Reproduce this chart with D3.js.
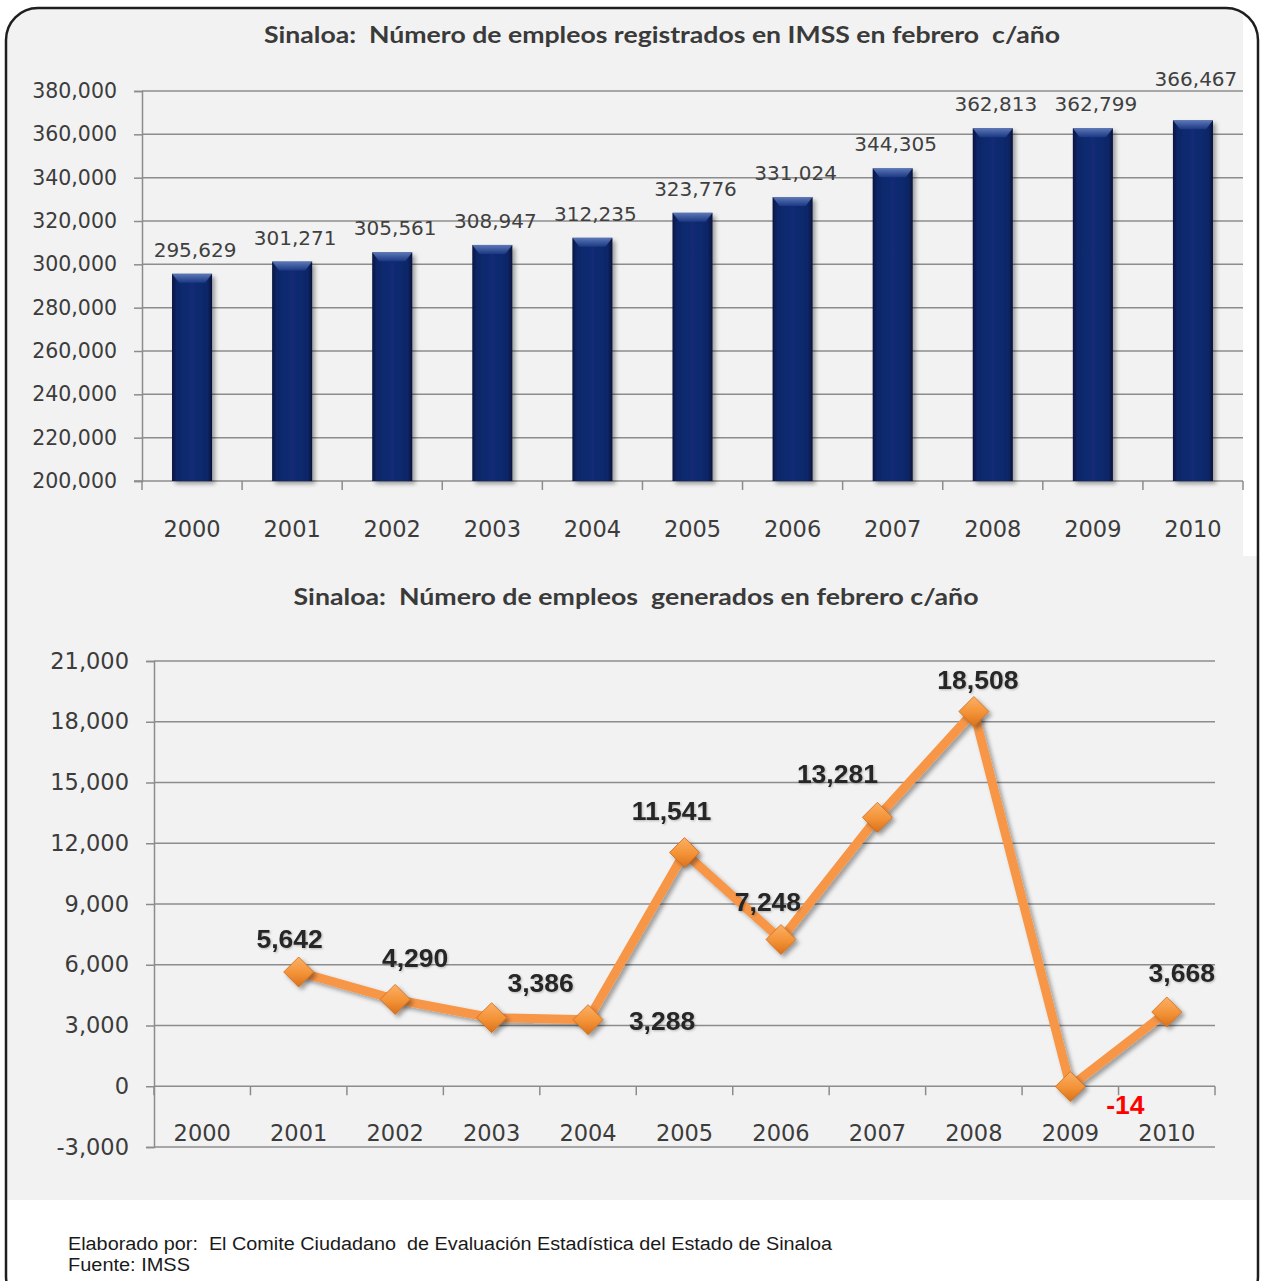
<!DOCTYPE html>
<html>
<head>
<meta charset="utf-8">
<script src="https://cdn.jsdelivr.net/npm/d3@7"></script>
<style>
  html, body { margin: 0; padding: 0; background: #ffffff; }
  svg { display: block; }
  text { white-space: pre; }
</style>
</head>
<body>
<svg id="chart" width="1262" height="1281"></svg>
<script>
// ---------------- DATA ----------------
const years = ["2000","2001","2002","2003","2004","2005","2006","2007","2008","2009","2010"];
const registrados = [295629, 301271, 305561, 308947, 312235, 323776, 331024, 344305, 362813, 362799, 366467];
const generados = [null, 5642, 4290, 3386, 3288, 11541, 7248, 13281, 18508, -14, 3668];
const topTicks = [200000, 220000, 240000, 260000, 280000, 300000, 320000, 340000, 360000, 380000];
const bottomTicks = [-3000, 0, 3000, 6000, 9000, 12000, 15000, 18000, 21000];
const titleTop = "Sinaloa:  Número de empleos registrados en IMSS en febrero  c/año";
const titleBottom = "Sinaloa:  Número de empleos  generados en febrero c/año";
const footer1 = "Elaborado por:  El Comite Ciudadano  de Evaluación Estadística del Estado de Sinaloa";
const footer2 = "Fuente: IMSS";

// ---------------- SETUP ----------------
const svg = d3.select("#chart");
const loc = d3.formatLocale({decimal: ".", thousands: ",", grouping: [3], currency: ["$", ""], minus: "-"});
const fmt = loc.format(",");
const gridColor = "#8c8c8c";
const tickText = "#3c3c3c";

const defs = svg.append("defs");
defs.append("clipPath").attr("id", "frameClip")
  .append("rect").attr("x", 6).attr("y", 8).attr("width", 1252).attr("height", 1300).attr("rx", 32);

const barGrad = defs.append("linearGradient").attr("id", "barGrad").attr("x1", "0").attr("x2", "1").attr("y1", "0").attr("y2", "0");
[["0%", "#061540"], ["12%", "#0e2769"], ["50%", "#122c74"], ["88%", "#0e2769"], ["100%", "#051238"]]
  .forEach(([o, c]) => barGrad.append("stop").attr("offset", o).attr("stop-color", c));
const bevelGrad = defs.append("linearGradient").attr("id", "bevelGrad").attr("x1", "0").attr("x2", "0").attr("y1", "0").attr("y2", "1");
[["0%", "#6a86c4"], ["100%", "#1d3a86"]]
  .forEach(([o, c]) => bevelGrad.append("stop").attr("offset", o).attr("stop-color", c));
const markGrad = defs.append("linearGradient").attr("id", "markGrad").attr("x1", "0").attr("x2", "0").attr("y1", "0").attr("y2", "1");
[["0%", "#fbb066"], ["55%", "#f39236"], ["100%", "#d9711c"]]
  .forEach(([o, c]) => markGrad.append("stop").attr("offset", o).attr("stop-color", c));

const shadow = defs.append("filter").attr("id", "shadow").attr("x", "-30%").attr("y", "-30%").attr("width", "160%").attr("height", "160%");
shadow.append("feDropShadow").attr("dx", 3).attr("dy", 3).attr("stdDeviation", 2.2).attr("flood-color", "#000").attr("flood-opacity", 0.35);
const tshadow = defs.append("filter").attr("id", "tshadow").attr("x", "-10%").attr("y", "-10%").attr("width", "130%").attr("height", "130%");
tshadow.append("feDropShadow").attr("dx", 1).attr("dy", 1).attr("stdDeviation", 0.8).attr("flood-color", "#000").attr("flood-opacity", 0.25);

// backgrounds
const bg = svg.append("g").attr("clip-path", "url(#frameClip)");
bg.append("rect").attr("x", 0).attr("y", 0).attr("width", 1243).attr("height", 556).attr("fill", "#f2f2f2");
bg.append("rect").attr("x", 0).attr("y", 556).attr("width", 1262).attr("height", 644).attr("fill", "#f2f2f2");

// ---------------- TOP CHART ----------------
const xTop = d3.scaleBand().domain(years).range([142, 1243]).paddingInner(0).paddingOuter(0);
const yTop = d3.scaleLinear().domain([200000, 380000]).range([481, 91]);
const gTop = svg.append("g");

gTop.append("text").attr("x", 662).attr("y", 43).attr("text-anchor", "middle")
  .attr("font-family", "Lato, 'Open Sans', sans-serif").attr("font-weight", "bold").attr("font-size", 22)
  .attr("fill", "#3a3a3a").attr("textLength", 796).attr("lengthAdjust", "spacingAndGlyphs").text(titleTop);

gTop.append("g").selectAll("line").data(topTicks.filter(t => t > 200000)).join("line")
  .attr("x1", 142).attr("x2", 1243).attr("y1", d => yTop(d)).attr("y2", d => yTop(d))
  .attr("stroke", gridColor).attr("stroke-width", 1.5);

const yAxisTop = d3.axisLeft(yTop).tickValues(topTicks).tickFormat(fmt).tickSize(8).tickPadding(17);
const yAT = gTop.append("g").attr("transform", "translate(142,0)").call(yAxisTop);
yAT.select(".domain").attr("stroke", gridColor).attr("stroke-width", 1.5);
yAT.selectAll(".tick line").attr("stroke", gridColor).attr("stroke-width", 1.5);
yAT.selectAll(".tick text").attr("font-family", "'DejaVu Sans', sans-serif").attr("font-size", 20.5).attr("fill", tickText);

const xAT = gTop.append("g").attr("transform", "translate(0,481)")
  .call(d3.axisBottom(xTop).tickSize(0).tickPadding(40));
xAT.select(".domain").remove();
xAT.selectAll(".tick text").attr("font-family", "'DejaVu Sans', sans-serif").attr("font-size", 22.5).attr("fill", tickText);
gTop.append("line").attr("x1", 134).attr("x2", 1243).attr("y1", 481).attr("y2", 481).attr("stroke", gridColor).attr("stroke-width", 1.5);
const bTop = years.map(y => xTop(y)).concat([xTop.range()[1]]);
gTop.append("g").selectAll("line").data(bTop).join("line")
  .attr("x1", d => d).attr("x2", d => d).attr("y1", 481).attr("y2", 490)
  .attr("stroke", gridColor).attr("stroke-width", 1.5);

const barW = xTop.bandwidth() * 0.4;
const bars = gTop.append("g").selectAll("g.bar").data(years.map((y, i) => ({y, v: registrados[i]}))).join("g").attr("class", "bar");
bars.append("rect")
  .attr("x", d => xTop(d.y) + (xTop.bandwidth() - barW) / 2)
  .attr("y", d => yTop(d.v))
  .attr("width", barW)
  .attr("height", d => yTop(200000) - yTop(d.v))
  .attr("fill", "url(#barGrad)").attr("filter", "url(#shadow)");
bars.append("path")
  .attr("d", d => {
    const x0 = xTop(d.y) + (xTop.bandwidth() - barW) / 2, x1 = x0 + barW, t = yTop(d.v), h = 9, ins = 7;
    return `M${x0},${t}L${x1},${t}L${x1 - ins},${t + h}L${x0 + ins},${t + h}Z`;
  })
  .attr("fill", "url(#bevelGrad)").attr("opacity", 0.85);
bars.append("text")
  .attr("x", d => xTop(d.y) + xTop.bandwidth() / 2 + 3)
  .attr("y", (d, i) => yTop(d.v) - (i === years.length - 1 ? 34 : 17))
  .attr("text-anchor", "middle")
  .attr("font-family", "'DejaVu Sans', sans-serif").attr("font-size", 20).attr("fill", "#404040")
  .text(d => fmt(d.v));

// ---------------- BOTTOM CHART ----------------
const xBot = d3.scaleBand().domain(years).range([154, 1215]);
const yBot = d3.scaleLinear().domain([-3000, 21000]).range([1147, 661]);
const gBot = svg.append("g");

gBot.append("text").attr("x", 636).attr("y", 605).attr("text-anchor", "middle")
  .attr("font-family", "Lato, 'Open Sans', sans-serif").attr("font-weight", "bold").attr("font-size", 22)
  .attr("fill", "#3a3a3a").attr("textLength", 685).attr("lengthAdjust", "spacingAndGlyphs").text(titleBottom);

gBot.append("g").selectAll("line").data(bottomTicks).join("line")
  .attr("x1", 154).attr("x2", 1215).attr("y1", d => yBot(d)).attr("y2", d => yBot(d))
  .attr("stroke", gridColor).attr("stroke-width", 1.5);

const yAB = gBot.append("g").attr("transform", "translate(154,0)")
  .call(d3.axisLeft(yBot).tickValues(bottomTicks).tickFormat(fmt).tickSize(8).tickPadding(17));
yAB.select(".domain").attr("stroke", gridColor).attr("stroke-width", 1.5);
yAB.selectAll(".tick line").attr("stroke", gridColor).attr("stroke-width", 1.5);
yAB.selectAll(".tick text").attr("font-family", "'DejaVu Sans', sans-serif").attr("font-size", 22.5).attr("fill", tickText);

const bBot = years.map(y => xBot(y)).concat([xBot.range()[1]]);
gBot.append("g").selectAll("line").data(bBot).join("line")
  .attr("x1", d => d).attr("x2", d => d).attr("y1", yBot(0)).attr("y2", yBot(0) + 9)
  .attr("stroke", gridColor).attr("stroke-width", 1.5);
const xAB = gBot.append("g").attr("transform", `translate(0,${yBot(0)})`)
  .call(d3.axisBottom(xBot).tickSize(0).tickPadding(39));
xAB.select(".domain").remove();
xAB.selectAll(".tick text").attr("font-family", "'DejaVu Sans', sans-serif").attr("font-size", 22.5).attr("fill", tickText);

const pts = years.map((y, i) => ({y, v: generados[i]})).filter(d => d.v !== null);
const cx = d => xBot(d.y) + xBot.bandwidth() / 2;
gBot.append("path").datum(pts)
  .attr("d", d3.line().x(cx).y(d => yBot(d.v)))
  .attr("fill", "none").attr("stroke", "#f79646").attr("stroke-width", 9)
  .attr("stroke-linejoin", "miter").attr("filter", "url(#shadow)");
gBot.append("g").selectAll("path").data(pts).join("path")
  .attr("d", d => { const x = cx(d), y = yBot(d.v), r = 15; return `M${x},${y - r}L${x + r},${y}L${x},${y + r}L${x - r},${y}Z`; })
  .attr("fill", "url(#markGrad)").attr("stroke", "#d06a18").attr("stroke-width", 0.8).attr("filter", "url(#shadow)");

// data labels (manual nudges as in the original)
const nudge = {"2001": [-9, -34], "2002": [20, -42], "2003": [49, -35], "2004": [74, 1], "2005": [-13, -42],
               "2006": [-13, -38], "2007": [-40, -44], "2008": [4, -32], "2009": [55, 18], "2010": [15, -40]};
gBot.append("g").selectAll("text").data(pts).join("text")
  .attr("x", d => cx(d) + nudge[d.y][0])
  .attr("y", d => yBot(d.v) + nudge[d.y][1])
  .attr("dy", "0.36em").attr("text-anchor", "middle")
  .attr("font-family", "'Liberation Sans', Arial, sans-serif").attr("font-weight", "bold").attr("font-size", 26.5)
  .attr("fill", d => d.v < 0 ? "#ff0000" : "#262626")
  .attr("filter", d => d.v < 0 ? null : "url(#tshadow)")
  .text(d => fmt(d.v));

// ---------------- FOOTER ----------------
svg.append("text").attr("x", 68).attr("y", 1250)
  .attr("font-family", "'Liberation Sans Narrow', 'Arial Narrow', 'Liberation Sans', sans-serif").attr("font-size", 18)
  .attr("fill", "#1a1a1a").attr("textLength", 764).attr("lengthAdjust", "spacingAndGlyphs").text(footer1);
svg.append("text").attr("x", 68).attr("y", 1271)
  .attr("font-family", "'Liberation Sans Narrow', 'Arial Narrow', 'Liberation Sans', sans-serif").attr("font-size", 18)
  .attr("fill", "#1a1a1a").attr("textLength", 122).attr("lengthAdjust", "spacingAndGlyphs").text(footer2);

// frame
svg.append("rect").attr("x", 6).attr("y", 8).attr("width", 1252).attr("height", 1300).attr("rx", 32)
  .attr("fill", "none").attr("stroke", "#1e1e1e").attr("stroke-width", 2.5);
</script>
</body>
</html>
